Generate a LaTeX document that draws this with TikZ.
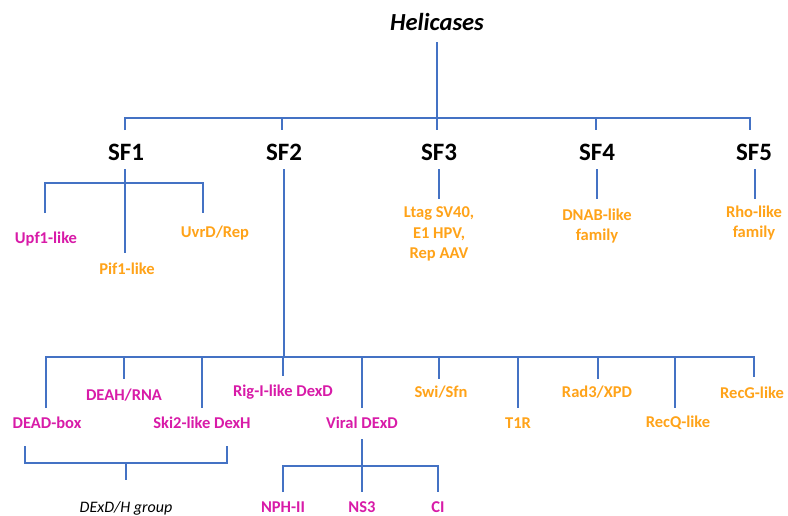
\documentclass[tikz,border=0pt]{standalone}
\usepackage{fontspec}
\setmainfont{Carlito}
\definecolor{lblue}{HTML}{4472C4}
\definecolor{mag}{HTML}{D81BA8}
\definecolor{org}{HTML}{FFA319}
\begin{document}
\begin{tikzpicture}[x=1pt,y=-1pt,
  br/.style={draw=lblue,line width=2.4pt},
  top/.style={font=\fontsize{24.5}{26}\selectfont\bfseries\itshape,inner sep=0pt},
  sf/.style={font=\fontsize{25}{27}\selectfont\bfseries,inner sep=0pt},
  pk/.style={font=\fontsize{16.5}{20.5}\selectfont\bfseries,text=mag,inner sep=0pt,align=center},
  og/.style={font=\fontsize{16.5}{20.5}\selectfont\bfseries,text=org,inner sep=0pt,align=center},
  grp/.style={font=\fontsize{16}{18}\selectfont\itshape,inner sep=0pt}]
\useasboundingbox (0,0) rectangle (788,515);
\fill[white] (0,0) rectangle (788,515);
% top level
\node[top] (hel) at (437,22) {Helicases};
\coordinate (h1) at (437,42);
\coordinate (h2) at (437,118);
\draw[br] (h1) -- (h2);
\node[sf] (sf1) at (126,152) {SF1};
\node[sf] (sf2) at (284,152) {SF2};
\node[sf] (sf3) at (439,152) {SF3};
\node[sf] (sf4) at (597,152) {SF4};
\node[sf] (sf5) at (754,152) {SF5};
\draw[br] (125,130) -- (125,118) -- (750,118) -- (750,130);
\foreach \x in {282,437,596} \draw[br] (\x,118) -- (\x,130);
% SF1
\node[pk] (upf) at (46,239) {Upf1-like};
\node[og] (pif) at (127,269) {Pif1-like};
\node[og] (uvr) at (215,233) {UvrD/Rep};
\draw[br] (125,169) -- (125,253);
\draw[br] (45,213) -- (45,183) -- (203,183) -- (203,213);
% SF3-5
\node[og] (sf3c) at (439,234) {Ltag SV40,\\E1 HPV,\\Rep AAV};
\node[og] (sf4c) at (597,226) {DNAB-like\\family};
\node[og] (sf5c) at (754,223) {Rho-like\\family};
\draw[br] (439,169) -- (439,199);
\draw[br] (597,169) -- (597,199);
\draw[br] (755,169) -- (755,199);
% SF2
\draw[br] (284,169) -- (284,357);
\draw[br] (46,408) -- (46,357) -- (754,357) -- (754,377);
\foreach \x/\y in {124/379,202/408,283/376,362/408,439/379,518/408,598/379,675/408} \draw[br] (\x,357) -- (\x,\y);
\node[pk] (dead) at (47,423) {DEAD-box};
\node[pk] (deah) at (124,395) {DEAH/RNA};
\node[pk] (ski) at (202,423) {Ski2-like DexH};
\node[pk] (rig) at (283,392) {Rig-I-like DexD};
\node[pk] (vir) at (362,423) {Viral DExD};
\node[og] (swi) at (441,392) {Swi/Sfn};
\node[og] (t1r) at (518,423) {T1R};
\node[og] (rad) at (597,392) {Rad3/XPD};
\node[og] (recq) at (678,423) {RecQ-like};
\node[og] (recg) at (752,393) {RecG-like};
% DExD/H group bracket
\draw[br] (25,446) -- (25,463) -- (227,463) -- (227,446);
\draw[br] (126,463) -- (126,480);
\node[grp] (grp) at (126,508) {DExD/H group};
% viral bracket
\draw[br] (362,439) -- (362,492);
\draw[br] (283,492) -- (283,466) -- (438,466) -- (438,492);
\node[pk] (nph) at (283,507) {NPH-II};
\node[pk] (ns3) at (362,507) {NS3};
\node[pk] (ci) at (438,507) {CI};
\end{tikzpicture}
\end{document}
